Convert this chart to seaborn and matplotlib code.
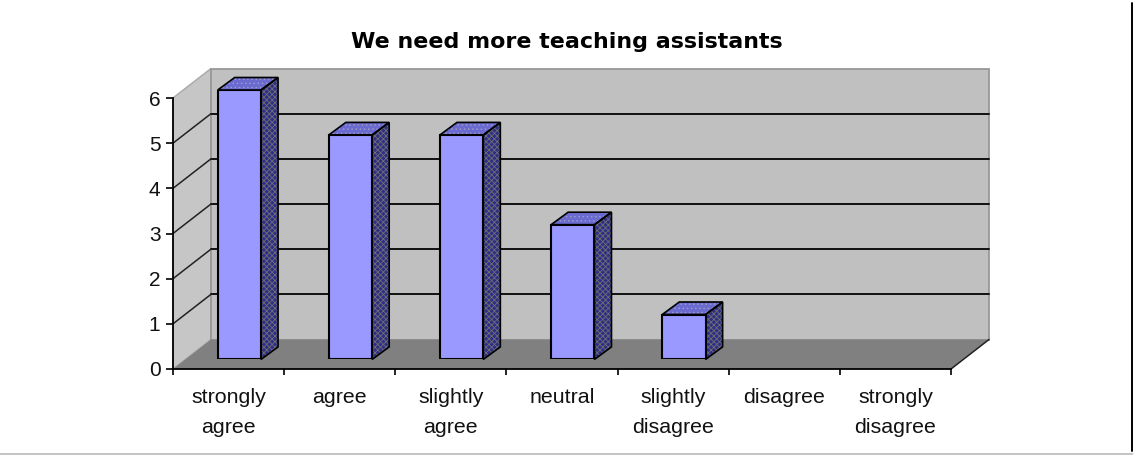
import matplotlib
matplotlib.use("Agg")
import matplotlib.pyplot as plt
from matplotlib.patches import Polygon
from matplotlib.lines import Line2D
import pandas as pd
import seaborn as sns

title = "We need more teaching assistants"
categories = ["strongly\nagree", "agree", "slightly\nagree", "neutral",
              "slightly\ndisagree", "disagree", "strongly\ndisagree"]
counts = [6, 5, 5, 3, 1, 0, 0]
y_ticks = [0, 1, 2, 3, 4, 5, 6]
grid_levels = [1, 2, 3, 4, 5]

W, H = 1133, 455
sns.set_theme(style="white")
plt.rcParams["font.family"] = ["Liberation Sans", "DejaVu Sans"]
plt.rcParams["hatch.linewidth"] = 0.6

BAR = "#9999FF"; SIDE = "#2E2E88"; TOP = "#6A6AD0"
WALL = "#C0C0C0"; FLOOR = "#808080"


def frame(l, t, r, b):
    return [l / W, 1 - b / H, (r - l) / W, (b - t) / H]


fig = plt.figure(figsize=(W / 100, H / 100), dpi=100, facecolor="white")
ax = fig.add_axes(frame(173, 98, 951, 369), zorder=1)
ax.set_xlim(-0.5, 6.5)
ax.set_ylim(0, 6)
ax.patch.set_alpha(0)

px_x = 778 / 7          # pixels per category
px_y = 271 / 6          # pixels per unit
dx = 38 / px_x
dy = 29.5 / px_y
x0, x1, top = -0.5, 6.5, 6

ax.add_patch(Polygon([(x0, 0), (x0 + dx, dy), (x0 + dx, top + dy), (x0, top)],
                     closed=True, fc="#C6C6C6", ec="#ABABAB", lw=1.1, clip_on=False, zorder=1))
ax.add_patch(Polygon([(x0 + dx, 0 + dy), (x1 + dx, 0 + dy), (x1 + dx, top + dy), (x0 + dx, top + dy)],
                     closed=True, fc=WALL, ec="#989898", lw=1.3, clip_on=False, zorder=1))
ax.add_patch(Polygon([(x0, 0), (x1, 0), (x1 + dx, dy), (x0 + dx, dy)],
                     closed=True, fc=FLOOR, ec="none", clip_on=False, zorder=2))
ax.plot([x1, x1 + dx], [0, dy], color="#222222", lw=1.1, clip_on=False, zorder=3)
for v in grid_levels:
    ax.plot([x0 + dx, x1 + dx], [v + dy, v + dy], color="#111111", lw=1.4, clip_on=False, zorder=3)
    ax.plot([x0, x0 + dx], [v, v + dy], color="#222222", lw=1.1, clip_on=False, zorder=3)

sns.despine(ax=ax)
for s in ("left", "bottom"):
    ax.spines[s].set_color("black")
    ax.spines[s].set_linewidth(1.3)
    ax.spines[s].set_zorder(4)
ax.set_yticks(y_ticks)
ax.set_xticks(range(len(categories)))
ax.set_xticklabels(categories, linespacing=1.68, color="#111111", fontsize=15.4, va="top")
ax.set_xticks([i - 0.5 for i in range(len(categories) + 1)], minor=True)
ax.tick_params(axis="x", which="major", length=0, pad=14)
ax.tick_params(axis="x", which="minor", length=4, width=1.2, color="black", bottom=True)
ax.tick_params(axis="y", length=5, width=1.2, color="black", left=True, pad=4, labelsize=15, labelcolor="#111111")
ax.set_xlabel("")
ax.set_ylabel("")

# Bars live on an axes shifted into the depth of the floor
bx = fig.add_axes(frame(173 + 10.8, 90, 951 + 10.8, 359.4), zorder=2)
bx.patch.set_alpha(0)
df = pd.DataFrame({"category": categories, "count": counts})
sns.barplot(data=df, x="category", y="count", ax=bx, color=BAR, saturation=1,
            width=0.39, edgecolor="black", linewidth=1.5, zorder=5)
bx.set_xlim(-0.5, 6.5)
bx.set_ylim(0, 6)
bx.axis("off")
bdx = 17 / px_x
bdy = 12.5 / (269.4 / 6)
for p, v in zip(list(bx.patches), counts):
    if v == 0:
        p.set_visible(False)
        continue
    l, r = p.get_x(), p.get_x() + p.get_width()
    side = [(r, 0), (r + bdx, bdy), (r + bdx, v + bdy), (r, v)]
    cap = [(l, v), (r, v), (r + bdx, v + bdy), (l + bdx, v + bdy)]
    bx.add_patch(Polygon(side, closed=True, fc=SIDE, ec="#6E6E6E", hatch="xxxxxx", lw=0, clip_on=False, zorder=4))
    bx.add_patch(Polygon(side, closed=True, fill=False, ec="black", lw=1.2, clip_on=False, zorder=4.1))
    bx.add_patch(Polygon(cap, closed=True, fc=TOP, ec="#9A9AC8", hatch="....", lw=0, clip_on=False, zorder=4))
    bx.add_patch(Polygon(cap, closed=True, fill=False, ec="black", lw=1.2, clip_on=False, zorder=4.1))

fig.text(567 / W, 1 - 42 / H, title, ha="center", va="center", fontsize=15.9,
         fontweight="bold", color="black", family="DejaVu Sans")
fig.add_artist(Line2D([1132 / W, 1132 / W], [1 - 3 / H, 1 - 451 / H], color="black", lw=1.4))
fig.add_artist(Line2D([0, 1], [1 - 454 / H, 1 - 454 / H], color="#C4C4C4", lw=1.4))
fig.savefig("out.png", dpi=100, facecolor="white")
